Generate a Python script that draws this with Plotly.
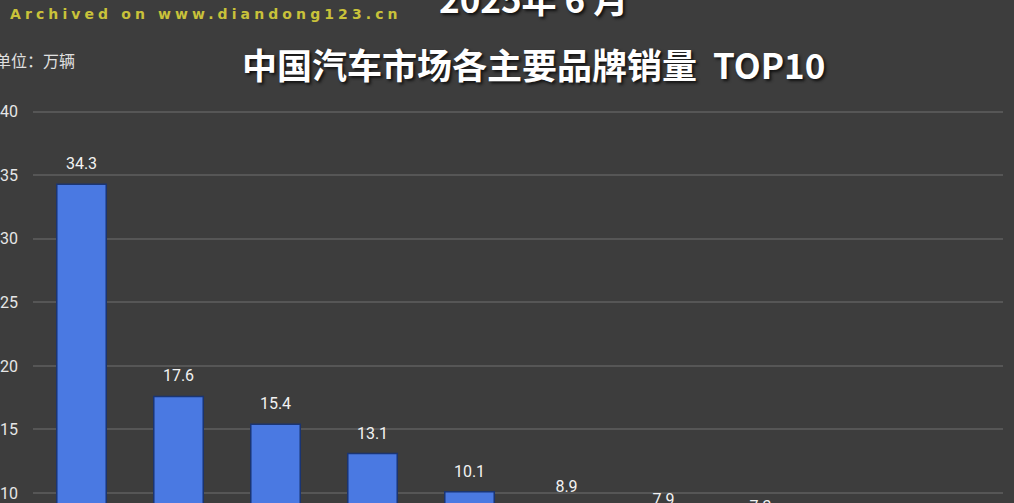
import plotly.graph_objects as go

brands = ["比亚迪", "吉利汽车", "一汽-大众", "长安汽车", "奇瑞汽车", "丰田", "上汽大众", "五菱", "特斯拉", "本田"]
sales = [34.3, 17.6, 15.4, 13.1, 10.1, 8.9, 7.9, 7.3, 6.7, 6.3]
tick_vals = [10, 15, 20, 25, 30, 35, 40]
tick_text = ["10", "15", "20", "25", "30", "35", "40"]

W, H = 1014, 503
L, R = 28, 11
y_lo, y_hi = 9.21, 48.8
label_gap = 1.5  # label centre above bar top, in data units

fig = go.Figure()
fig.add_trace(go.Bar(
    x=brands, y=sales,
    marker=dict(color="#4a79e2", line=dict(color="#1b3572", width=1.5)),
    width=0.51,
    hoverinfo="skip",
))
fig.add_trace(go.Scatter(
    x=brands, y=[v + label_gap for v in sales],
    mode="text",
    text=[f"{v:.1f}" for v in sales],
    textposition="middle center",
    textfont=dict(family="Roboto, Liberation Sans, sans-serif", size=16, color="#f2f2f2"),
    cliponaxis=True,
    hoverinfo="skip",
))

def px_x(px):
    return (px - L) / (W - L - R)

def px_y(py):
    return 1 - py / H

title_font = dict(family="Noto Sans CJK SC", size=35, color="#ffffff", weight="bold",
                  shadow="2px 2px 3px #111111")

fig.update_layout(
    width=W, height=H,
    margin=dict(l=L, r=R, t=0, b=0, pad=0),
    paper_bgcolor="#3d3d3d",
    plot_bgcolor="rgba(0,0,0,0)",
    showlegend=False,
    xaxis=dict(visible=False, range=[-0.5, 9.5]),
    yaxis=dict(
        range=[y_lo, y_hi],
        tickvals=tick_vals, ticktext=tick_text,
        showgrid=True, gridcolor="#565656", gridwidth=1.5,
        zeroline=False, showline=False,
        ticks="", ticklabelstandoff=14,
        tickfont=dict(family="Roboto, Liberation Sans, sans-serif", size=16, color="#e6e6e6"),
    ),
    annotations=[
        dict(text="中国汽车市场各主要品牌销量\u00a0\u00a0TOP10", xref="paper", yref="paper",
             x=px_x(531), y=px_y(64), xanchor="center", yanchor="middle", showarrow=False,
             font=title_font),
        dict(text="2025年 6 月", xref="paper", yref="paper",
             x=px_x(531), y=px_y(-2), xanchor="center", yanchor="middle", showarrow=False,
             font=title_font),
        dict(text="单位：万辆", xref="paper", yref="paper",
             x=px_x(72), y=px_y(60), xanchor="right", yanchor="middle", showarrow=False,
             font=dict(family="Noto Sans CJK SC", size=16, color="#e0e0e0")),
        dict(text='<span style="letter-spacing:4.1px">Archived on www.diandong123.cn</span>',
             xref="paper", yref="paper",
             x=px_x(3), y=px_y(14), xanchor="left", yanchor="middle", showarrow=False,
             font=dict(family="DejaVu Sans", size=14, color="#c9c23a", weight="bold")),
    ],
)

fig.write_html(
    "out.html",
    config={"displayModeBar": False},
    post_script="document.body.style.margin='0';document.body.style.overflow='hidden';",
)
